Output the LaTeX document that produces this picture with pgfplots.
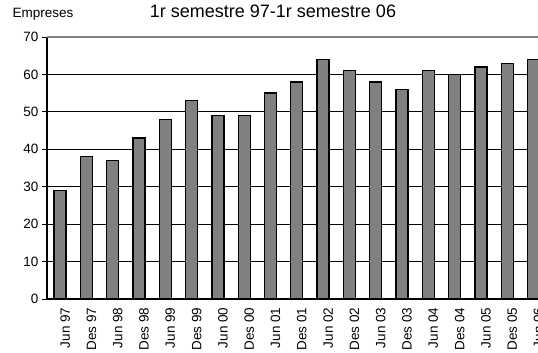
\documentclass[border=0pt]{standalone}
\usepackage{fontspec}
\setmainfont{Liberation Sans}
\usepackage{pgfplots}
\pgfplotsset{compat=1.18}
\definecolor{barfill}{HTML}{808080}
\definecolor{topline}{HTML}{808080}

\begin{document}
\begin{tikzpicture}[x=1pt,y=1pt]
% the reference is a crop: right edge and label bottoms are cut
\useasboundingbox (-47,-54) rectangle (491,299);
\clip (-47,-54) rectangle (491,299);

\begin{axis}[
  at={(0,0)}, anchor=south west,
  scale only axis,
  width=491pt, height=262pt,
  xmin=-0.5, xmax=18.17,
  ymin=0, ymax=70,
  axis x line*=bottom,
  axis y line*=left,
  axis line style={line width=1.1pt},
  ybar, bar width=12pt,
  xtick={0,...,18},
  xticklabels={Jun 97,Des 97,Jun 98,Des 98,Jun 99,Des 99,Jun 00,Des 00,Jun 01,Des 01,Jun 02,Des 02,Jun 03,Des 03,Jun 04,Des 04,Jun 05,Des 05,Jun 06},
  x tick style={draw=none},
  xticklabel style={rotate=90, anchor=east, font=\fontsize{13.5}{15}\selectfont, yshift=-5pt},
  extra x ticks={-0.5,0.5,...,17.5},
  extra x tick labels={},
  extra x tick style={grid=none, tick style={draw=black, line width=0.8pt}, major tick length=5pt, tick align=outside},
  ytick={0,10,...,60},
  yticklabel style={font=\fontsize{13.5}{15}\selectfont},
  y tick style={draw=black, line width=0.8pt},
  major tick length=5pt,
  tick align=outside,
  ymajorgrids,
  grid style={black, line width=0.8pt},
  extra y ticks={70},
  extra y tick style={grid style={topline, line width=1.6pt}, yticklabel style={font=\fontsize{13.5}{15}\selectfont}},
  /pgf/number format/assume math mode=true,
  clip=true,
]
\addplot[fill=barfill, draw=black, line width=1.3pt]
  coordinates{
    (0,29) (1,38) (2,37) (3,43) (4,48) (5,53) (6,49) (7,49) (8,55) (9,58)
    (10,64) (11,61) (12,58) (13,56) (14,61) (15,60) (16,62) (17,63) (18,64)
};
\end{axis}

\node[anchor=west, font=\fontsize{13.5}{15}\selectfont] at (-38,285) {Empreses};
\node[font=\fontsize{18}{20}\selectfont] at (226,288) {1r semestre 97-1r semestre 06};
\end{tikzpicture}
\end{document}
